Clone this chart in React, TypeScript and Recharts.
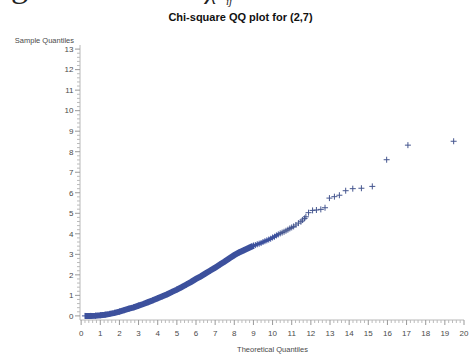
import React from "react";
import { ScatterChart, Scatter, XAxis, YAxis } from "recharts";

// theoretical vs sample quantiles
const denseX = [0.2, 0.5, 0.75, 1.0, 1.25, 1.5, 1.75, 2.0, 2.25, 2.5, 2.75, 3.0, 3.25, 3.5, 3.75, 4.0, 4.25, 4.5, 4.75, 5.0, 5.25, 5.5, 5.75, 6.0, 6.25, 6.5, 6.75, 7.0, 7.25, 7.5, 7.75, 8.0, 8.25, 8.5, 8.75, 9.0];
const denseY = [0.0, 0.0, 0.01, 0.03, 0.06, 0.1, 0.15, 0.21, 0.28, 0.35, 0.42, 0.5, 0.58, 0.67, 0.76, 0.86, 0.96, 1.06, 1.17, 1.28, 1.4, 1.53, 1.66, 1.8, 1.93, 2.07, 2.21, 2.35, 2.5, 2.65, 2.81, 2.96, 3.09, 3.2, 3.31, 3.42];

const midX = [9.0, 9.1, 9.2, 9.3, 9.4, 9.5, 9.6, 9.7, 9.8, 9.9, 10.0, 10.1, 10.2, 10.3];
const midY = [3.42, 3.45, 3.49, 3.52, 3.55, 3.6, 3.64, 3.68, 3.72, 3.76, 3.82, 3.86, 3.92, 3.97];

const tailX = [10.4, 10.5, 10.6, 10.7, 10.8, 10.9, 11.0, 11.1, 11.22, 11.35, 11.48, 11.56, 11.67, 11.74, 11.88, 12.09, 12.29, 12.52, 12.74, 12.97, 13.23, 13.49, 13.82, 14.19, 14.64, 15.21, 15.96, 17.07, 19.46];
const tailY = [4.02, 4.06, 4.1, 4.15, 4.2, 4.26, 4.31, 4.36, 4.43, 4.52, 4.59, 4.67, 4.75, 4.83, 5.03, 5.14, 5.16, 5.19, 5.27, 5.74, 5.81, 5.88, 6.1, 6.2, 6.22, 6.31, 7.61, 8.32, 8.51];

const xMajor = [0, 1, 2, 3, 4, 5, 6, 7, 8, 9, 10, 11, 12, 13, 14, 15, 16, 17, 18, 19, 20];
const yMajor = [0, 1, 2, 3, 4, 5, 6, 7, 8, 9, 10, 11, 12, 13];

const withMinor = (major: number[]) => {
  const out: number[] = [];
  major.forEach((m, i) => {
    out.push(m);
    if (i < major.length - 1) for (let k = 1; k < 5; k++) out.push(+(m + k * 0.2).toFixed(1));
  });
  return out;
};

const toPts = (xs: number[], ys: number[]) => xs.map((x, i) => ({ x, y: ys[i] }));
const dense = toPts(denseX, denseY);
const mid = toPts(midX, midY);
const tail = toPts(tailX, tailY);

const MARK = "#3d519d";
const AXIS = "#b8b8b8";
const TXT = "#4a4a4a";
const FONT = "'Liberation Sans', Arial, sans-serif";

const isMajor = (v: number) => Math.abs(v - Math.round(v)) < 1e-6;

const Plus = (props: any) => {
  const { cx, cy } = props;
  return <path d={`M${cx - 3},${cy}H${cx + 3}M${cx},${cy - 3}V${cy + 3}`} stroke={props.stroke || MARK} strokeWidth={1} fill="none" />;
};

const XTick = ({ x, y, payload }: any) => {
  const v = payload.value;
  const major = isMajor(v);
  return (
    <g>
      <line x1={x} x2={x} y1={y} y2={y + (major ? 5 : 3)} stroke={major ? "#999" : "#bbb"} />
      {major && (
        <text x={x} y={y + 15.5} textAnchor="middle" fontSize={8} fill={TXT} fontFamily={FONT}>
          {Math.round(v)}
        </text>
      )}
    </g>
  );
};

const YTick = ({ x, y, payload }: any) => {
  const v = payload.value;
  const major = isMajor(v);
  return (
    <g>
      <line x1={x - (major ? 5 : 3)} x2={x} y1={y} y2={y} stroke={major ? "#999" : "#bbb"} />
      {major && (
        <text x={x - 6.5} y={y + 2.8} textAnchor="end" fontSize={8} fill={TXT} fontFamily={FONT}>
          {Math.round(v)}
        </text>
      )}
    </g>
  );
};

export default function App() {
  return (
    <div style={{ position: "absolute", left: 0, top: 0, width: 471, height: 354, background: "#fff" }}>
      <ScatterChart width={471} height={354} margin={{ top: 45, right: 7, bottom: 0, left: 0 }}>
        <XAxis
          xAxisId="b"
          type="number"
          dataKey="x"
          domain={[-0.06, 20]}
          ticks={withMinor(xMajor)}
          interval={0}
          height={34}
          tickSize={0}
          tickMargin={0}
          tickLine={false}
          axisLine={{ stroke: AXIS }}
          tick={<XTick />}
        />
        <XAxis xAxisId="t" orientation="top" type="number" dataKey="x" domain={[-0.06, 20]} height={0} tick={false} tickLine={false} axisLine={{ stroke: AXIS }} />
        <YAxis
          yAxisId="l"
          type="number"
          dataKey="y"
          domain={[-0.2, 13.2]}
          ticks={withMinor(yMajor)}
          interval={0}
          width={80}
          tickSize={0}
          tickMargin={0}
          tickLine={false}
          axisLine={{ stroke: AXIS }}
          tick={<YTick />}
        />
        <YAxis yAxisId="r" orientation="right" type="number" dataKey="y" domain={[-0.2, 13.2]} width={0} tick={false} tickLine={false} axisLine={{ stroke: AXIS }} />
        <Scatter xAxisId="b" yAxisId="l" data={dense} line={{ stroke: MARK, strokeWidth: 6 }} shape={<Plus />} isAnimationActive={false} />
        <Scatter xAxisId="b" yAxisId="l" data={mid} line={{ stroke: MARK, strokeWidth: 3 }} shape={<Plus />} isAnimationActive={false} />
        <Scatter xAxisId="b" yAxisId="l" data={tail} shape={<Plus stroke="#45568f" />} isAnimationActive={false} />
      </ScatterChart>
      <svg width={471} height={354} style={{ position: "absolute", left: 0, top: 0, pointerEvents: "none" }}>
        <text x={11} y={-3} fontSize={34} fontFamily="'Liberation Serif', serif" fill="#222">g</text>
        <text x={206} y={-1} fontSize={26} fontStyle="italic" fontFamily="'Liberation Serif', serif" fill="#222">χ</text>
        <text x={226} y={5} fontSize={11} fontStyle="italic" fontFamily="'Liberation Serif', serif" fill="#222">ij</text>
        <text x={240.5} y={21} textAnchor="middle" fontSize={11} fontWeight="bold" fontFamily={FONT} fill="#111">
          Chi-square QQ plot for (2,7)
        </text>
        <text x={74} y={42.5} textAnchor="end" fontSize={7.5} fontFamily={FONT} fill={TXT}>
          Sample Quantiles
        </text>
        <text x={272.5} y={351.5} textAnchor="middle" fontSize={7.5} fontFamily={FONT} fill={TXT}>
          Theoretical Quantiles
        </text>
      </svg>
    </div>
  );
}
